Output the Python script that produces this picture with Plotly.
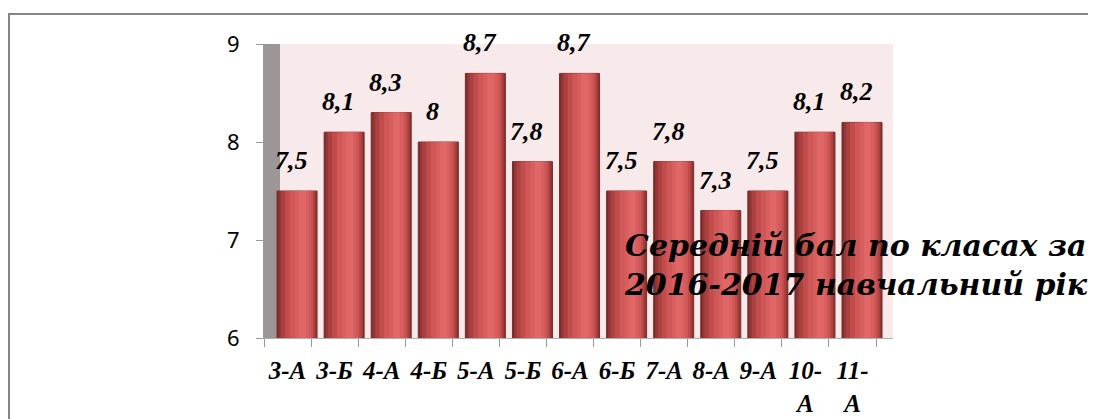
import plotly.graph_objects as go

categories = ["3-А", "3-Б", "4-А", "4-Б", "5-А", "5-Б", "6-А", "6-Б", "7-А", "8-А", "9-А", "10-А", "11-А"]
tick_labels = ["3-А", "3-Б", "4-А", "4-Б", "5-А", "5-Б", "6-А", "6-Б", "7-А", "8-А", "9-А", "10-<br>А", "11-<br>А"]
values = [7.5, 8.1, 8.3, 8.0, 8.7, 7.8, 8.7, 7.5, 7.8, 7.3, 7.5, 8.1, 8.2]
value_labels = ["7,5", "8,1", "8,3", "8", "8,7", "7,8", "8,7", "7,5", "7,8", "7,3", "7,5", "8,1", "8,2"]
title_lines = ["Середній бал по класах за", "2016-2017 навчальний рік"]

OFF = 8  # page body margin
W, H = 1096 - OFF, 419 - OFF
X_LEFT, X_RIGHT, Y_TOP, Y_BOT = 264, 893, 44, 338   # target window pixels
L = X_LEFT - OFF
R = W - (X_RIGHT - OFF)
T = Y_TOP - OFF
B = H - (Y_BOT - OFF)
plot_w = X_RIGHT - X_LEFT
ph = Y_BOT - Y_TOP
unit = 47.08
x_max = -0.5 + plot_w / unit

def px(x):
    return (x - X_LEFT) / plot_w

def py(y):
    return (Y_BOT - y) / ph

bar_w = 0.85
bar_off = -0.223
layers = [
    (0.00, 1.00, "#7a2c2c"),
    (0.04, 0.98, "#953636"),
    (0.10, 0.95, "#ab4040"),
    (0.20, 0.91, "#c04c4c"),
    (0.32, 0.86, "#cf5757"),
    (0.45, 0.80, "#d95f5f"),
    (0.55, 0.72, "#df6767"),
]

def bi(s):
    return "<br>".join("<b><i>" + p + "</i></b>" for p in s.split("<br>"))

fig = go.Figure()
for i, (a, b, col) in enumerate(layers):
    fig.add_trace(go.Bar(
        x=categories, y=values,
        width=(b - a) * bar_w,
        offset=bar_off + a * bar_w,
        marker=dict(color=col, line=dict(width=1 if i == 0 else 0, color="#7a2e2e")),
        showlegend=False, hoverinfo="skip",
    ))

for c, v, t in zip(categories, values, value_labels):
    fig.add_annotation(x=c, y=v, text=bi(t), showarrow=False, xref="x", yref="y",
                       yanchor="bottom", yshift=14, xshift=4,
                       font=dict(family="Liberation Serif", size=26, color="black"))

fig.add_annotation(x=px(622), y=py(226), xref="paper", yref="paper",
                   xanchor="left", yanchor="top", align="left", showarrow=False,
                   text=bi("<br>".join(title_lines)),
                   font=dict(family="DejaVu Serif", size=30, color="black"))

# back wall and side wall
wall_frac = 16 / plot_w
fig.add_shape(type="rect", xref="paper", yref="paper", x0=wall_frac, x1=1, y0=0, y1=1,
              fillcolor="#f8eaea", line=dict(width=0), layer="below")
fig.add_shape(type="rect", xref="paper", yref="paper", x0=0, x1=wall_frac, y0=0, y1=1,
              fillcolor="#9d9696", line=dict(width=0), layer="below")
# outer border
fig.add_shape(type="rect", xref="paper", yref="paper",
              x0=px(9), x1=px(1120), y0=py(440), y1=py(14),
              line=dict(color="#868686", width=2), fillcolor="rgba(0,0,0,0)")

fig.update_layout(
    width=W, height=H, barmode="overlay",
    margin=dict(l=L, r=R, t=T, b=B, pad=0, autoexpand=False),
    paper_bgcolor="white", plot_bgcolor="rgba(0,0,0,0)",
    xaxis=dict(type="category", range=[-0.5, x_max], tickmode="array", tickvals=categories,
               ticktext=[bi(t) for t in tick_labels], tickangle=0, automargin=False,
               ticks="outside", tickson="boundaries", ticklen=8, tickcolor="#999999",
               showline=True, linecolor="#b0b0b0", linewidth=1, showgrid=False,
               tickfont=dict(family="Liberation Serif", size=25, color="black"),
               ticklabelstandoff=10),
    yaxis=dict(range=[6, 9], tickvals=[6, 7, 8, 9], ticks="outside", ticklen=7, automargin=False,
               tickcolor="#999999", showgrid=False, zeroline=False,
               showline=True, linecolor="#999999", linewidth=1,
               tickfont=dict(family="Noto Sans", size=22, color="black"),
               ticklabelstandoff=12),
)

fig.write_html("out.html")
